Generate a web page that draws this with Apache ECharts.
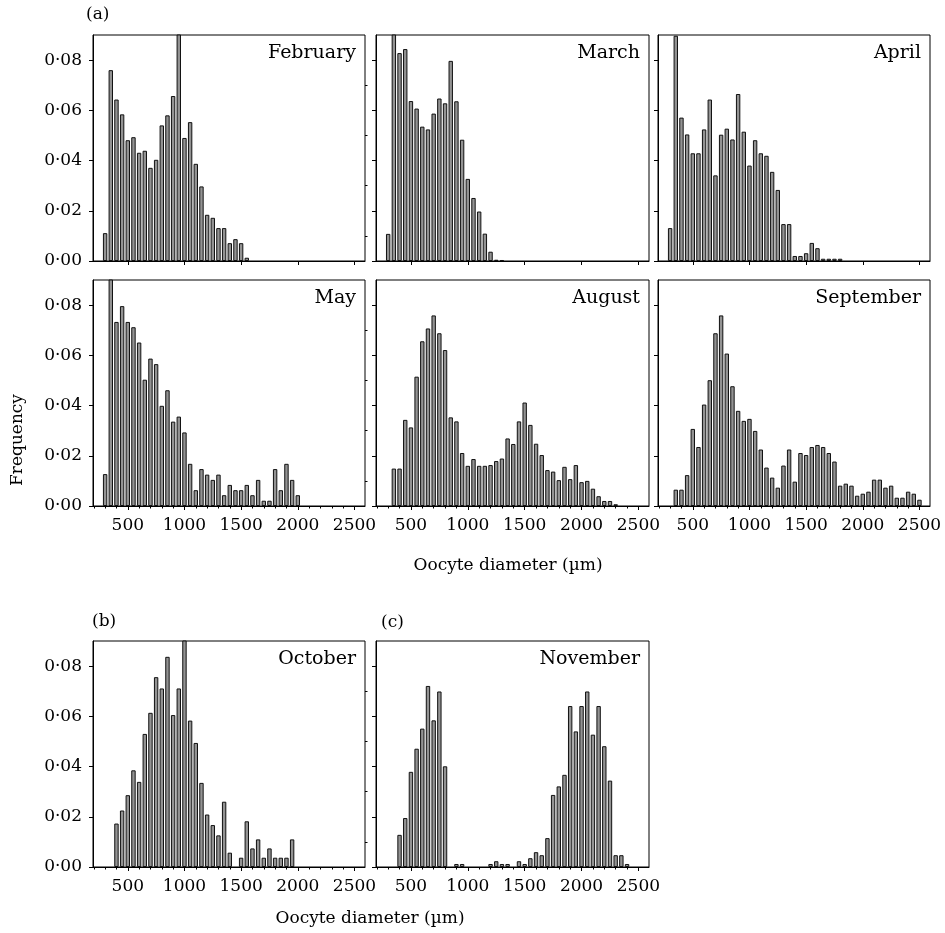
<!DOCTYPE html>
<html>
<head>
<meta charset="utf-8">
<script src="https://cdn.jsdelivr.net/npm/echarts@6/dist/echarts.min.js"></script>
<style>
html,body{margin:0;padding:0;background:#fff;}
#c{width:945px;height:933px;}
</style>
</head>
<body>
<div id="c"></div>
<script>
// Bin centres (µm)
var binCenters = [300,350,400,450,500,550,600,650,700,750,800,850,900,950,1000,1050,1100,1150,1200,1250,1300,1350,1400,1450,1500,1550,1600,1650,1700,1750,1800,1850,1900,1950,2000,2050,2100,2150,2200,2250,2300,2350,2400,2450,2500];

var february = [0.0111,0.076,0.0643,0.0584,0.0481,0.0493,0.0431,0.0439,0.0371,0.0403,0.054,0.058,0.0657,0.095,0.049,0.0553,0.0387,0.0297,0.0184,0.0172,0.0131,0.0131,0.0071,0.0087,0.0071,0.0013];
var march = [0.0108,0.095,0.0828,0.0844,0.0637,0.0607,0.0535,0.0524,0.0587,0.0647,0.0628,0.0797,0.0636,0.0483,0.0327,0.0251,0.0197,0.0109,0.0037,0.0005,0.0004];
var april = [0.0131,0.0897,0.0571,0.0504,0.0429,0.0429,0.0524,0.0643,0.0341,0.0503,0.0527,0.0484,0.0665,0.0515,0.038,0.0481,0.0429,0.0419,0.0355,0.0283,0.0147,0.0147,0.002,0.002,0.0031,0.0072,0.0051,0.0009,0.0009,0.0009,0.0009];
var may = [0.0127,0.095,0.0733,0.0796,0.0733,0.0712,0.0651,0.0503,0.0587,0.0565,0.0399,0.0461,0.0336,0.0356,0.0293,0.0168,0.0063,0.0147,0.0125,0.0104,0.0125,0.0043,0.0084,0.0063,0.0063,0.0084,0.0043,0.0104,0.0021,0.0021,0.0147,0.0063,0.0168,0.0104,0.0043];
var august = [0,0.0149,0.0149,0.0343,0.0313,0.0515,0.0656,0.0707,0.0759,0.0688,0.0621,0.0353,0.0337,0.0211,0.016,0.0187,0.016,0.016,0.0163,0.0179,0.0189,0.0269,0.0247,0.0337,0.0412,0.0323,0.0248,0.0203,0.0143,0.0137,0.0103,0.0156,0.0107,0.0163,0.0095,0.01,0.0069,0.0039,0.002,0.002,0.0007];
var september = [0,0.0065,0.0065,0.0123,0.0307,0.0235,0.0404,0.0501,0.0688,0.0759,0.0607,0.0477,0.0379,0.0339,0.0347,0.0299,0.0225,0.0153,0.0113,0.0073,0.0161,0.0225,0.0097,0.0211,0.0203,0.0235,0.0243,0.0235,0.0211,0.0177,0.0081,0.0089,0.0081,0.0041,0.0049,0.0057,0.0105,0.0105,0.0073,0.0081,0.0033,0.0033,0.0057,0.0049,0.0025];
var october = [0,0,0.0173,0.0225,0.0286,0.0385,0.0339,0.053,0.0614,0.0756,0.0711,0.0837,0.0605,0.0711,0.095,0.0583,0.0494,0.0335,0.0209,0.0167,0.0126,0.026,0.0057,0,0.0037,0.0182,0.0074,0.011,0.0037,0.0074,0.0037,0.0037,0.0037,0.011];
var november = [0,0,0.0128,0.0195,0.0379,0.0471,0.0551,0.0721,0.0584,0.0699,0.0401,0,0.0012,0.0012,0,0,0,0,0.0012,0.0023,0.0012,0.0012,0,0.0023,0.0012,0.0035,0.0059,0.0047,0.0115,0.0287,0.0321,0.0367,0.0641,0.054,0.0641,0.0699,0.0527,0.0641,0.0481,0.0344,0.0047,0.0047,0.0012,0,0];

var xMajorTicks = [500,1000,1500,2000,2500];
var xMinorTicks = [200,300,400,600,700,800,900,1100,1200,1300,1400,1600,1700,1800,1900,2100,2200,2300,2400];
var yMajorTicks = [0,0.02,0.04,0.06,0.08];
var yMinorTicks = [0.01,0.03,0.05,0.07];
var monthNames = ['February','March','April','May','August','September','October','November'];
var monthData = [february,march,april,may,august,september,october,november];
var panelRow = [0,0,0,1,1,1,2,2];
var panelCol = [0,1,2,0,1,2,0,1];

var FONT = 'DejaVu Serif';
var colLeft = [93,376,658], colWidth = [272,273,272];
var rowTop = [35,280,641], rowHeight = 226;
var X_MIN = 193, X_MAX = 2593, Y_MIN = 0, Y_MAX = 0.09;

function fmtY(v){ return v.toFixed(2).replace('.', '\u00B7'); }
function fmtX(v){ return String(Math.round(v)); }

var grids=[], xAxes=[], yAxes=[], series=[], graphics=[];
for (var p=0;p<monthNames.length;p++){
  var r=panelRow[p], c=panelCol[p];
  grids.push({left:colLeft[c], top:rowTop[r], width:colWidth[c], height:rowHeight,
    show:true, borderColor:'#000', borderWidth:1, backgroundColor:'transparent'});
  var showXLab = r>0, showYLab = c===0;
  var xi = xAxes.length;
  xAxes.push({type:'value', gridIndex:p, min:X_MIN, max:X_MAX, position:'bottom',
    axisLine:{show:true, lineStyle:{color:'#000',width:1}},
    axisTick:{show:true, inside:false, length:4, customValues:xMajorTicks, lineStyle:{color:'#000'}},
    axisLabel:{show:showXLab, customValues:xMajorTicks, formatter:fmtX, margin:11, color:'#000', fontFamily:FONT, fontSize:17},
    splitLine:{show:false}});
  xAxes.push({type:'value', gridIndex:p, min:X_MIN, max:X_MAX, position:'bottom',
    axisLine:{show:false},
    axisTick:{show:showXLab, inside:false, length:2.5, customValues:xMinorTicks, lineStyle:{color:'#000'}},
    axisLabel:{show:false}, splitLine:{show:false}});
  var yi = yAxes.length;
  yAxes.push({type:'value', gridIndex:p, min:Y_MIN, max:Y_MAX,
    axisLine:{show:true, lineStyle:{color:'#000',width:1}},
    axisTick:{show:true, inside:false, length:4, customValues:yMajorTicks, lineStyle:{color:'#000'}},
    axisLabel:{show:showYLab, customValues:yMajorTicks, formatter:fmtY, margin:11, color:'#000', fontFamily:FONT, fontSize:17},
    splitLine:{show:false}});
  yAxes.push({type:'value', gridIndex:p, min:Y_MIN, max:Y_MAX,
    axisLine:{show:false},
    axisTick:{show:showYLab, inside:false, length:2.5, customValues:yMinorTicks, lineStyle:{color:'#000'}},
    axisLabel:{show:false}, splitLine:{show:false}});
  var d=[], vals=monthData[p];
  for (var i=0;i<vals.length;i++){ if (vals[i]>0) d.push([binCenters[i], vals[i]]); }
  series.push({type:'bar', xAxisIndex:xi, yAxisIndex:yi, data:d, barWidth:4.4, clip:true,
    itemStyle:{color:'#939393', borderColor:'#111', borderWidth:1}, silent:true});
  graphics.push({type:'text', right:945-(colLeft[c]+colWidth[c]-9), top:rowTop[r]+9,
    style:{text:monthNames[p], font:'19px "'+FONT+'"', fill:'#000'}});
}
graphics.push({type:'text', left:86, top:6, style:{text:'(a)', font:'17px "'+FONT+'"', fill:'#000'}});
graphics.push({type:'text', left:92, top:613, style:{text:'(b)', font:'17px "'+FONT+'"', fill:'#000'}});
graphics.push({type:'text', left:381, top:614, style:{text:'(c)', font:'17px "'+FONT+'"', fill:'#000'}});
graphics.push({type:'text', x:508, y:566, style:{text:'Oocyte diameter (\u00B5m)', font:'17px "'+FONT+'"', fill:'#000', align:'center', verticalAlign:'middle'}});
graphics.push({type:'text', x:370, y:919, style:{text:'Oocyte diameter (\u00B5m)', font:'17px "'+FONT+'"', fill:'#000', align:'center', verticalAlign:'middle'}});
graphics.push({type:'text', x:18, y:440, rotation:Math.PI/2, style:{text:'Frequency', font:'17px "'+FONT+'"', fill:'#000', align:'center', verticalAlign:'middle'}});

var chart = echarts.init(document.getElementById('c'), null, {renderer:'canvas'});
chart.setOption({animation:false, backgroundColor:'#fff', grid:grids, xAxis:xAxes, yAxis:yAxes, series:series, graphic:graphics});
</script>
</body>
</html>
